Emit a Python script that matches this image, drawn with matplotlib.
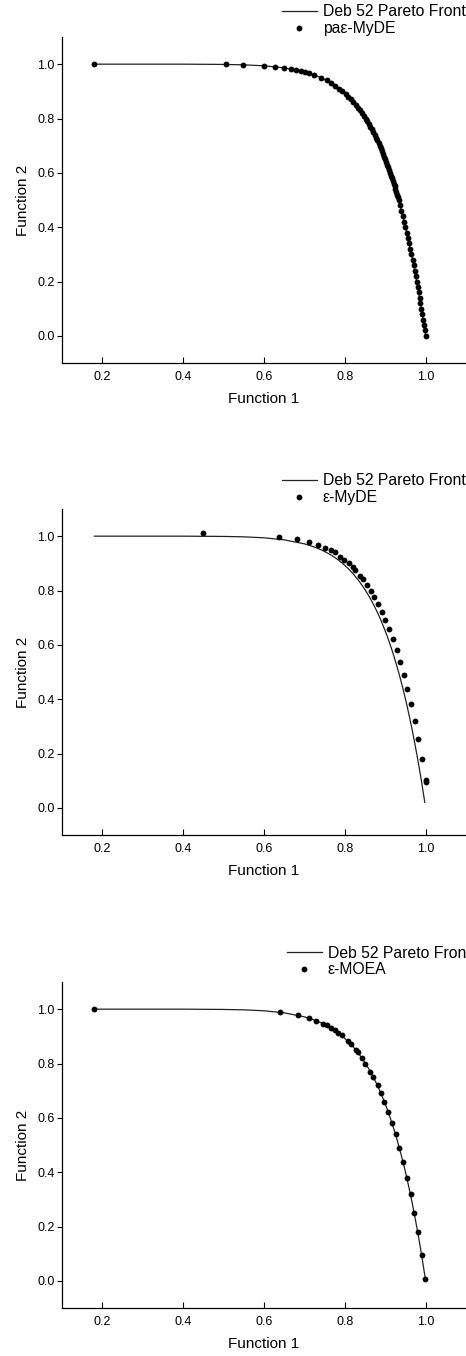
import matplotlib
matplotlib.use('Agg')
import matplotlib.pyplot as plt

plt.rcParams['font.family'] = ['Liberation Sans', 'DejaVu Sans']

# Deb 52 Pareto front
front_f1 = [0.18, 0.30, 0.40, 0.50, 0.55, 0.60, 0.65, 0.70, 0.7248, 0.7411, 0.7548,
            0.7665, 0.7768, 0.7860, 0.7943, 0.8089, 0.8215, 0.8325, 0.8424, 0.8513,
            0.8595, 0.8670, 0.8739, 0.8805, 0.8866, 0.8923, 0.8977, 0.9029, 0.9078,
            0.9124, 0.9169, 0.9212, 0.9253, 0.9292, 0.9330, 0.9367, 0.9402, 0.9437,
            0.9470, 0.9502, 0.9533, 0.9563, 0.9593, 0.9621, 0.9650, 0.9677, 0.9703,
            0.9729, 0.9754, 0.9779, 0.9803, 0.9827, 0.9850, 0.9873, 0.9895, 0.9917,
            0.9938, 0.9959, 0.9980, 1.0]
front_f2 = [1.0, 1.0, 1.0, 0.999, 0.9975, 0.994, 0.9865, 0.9718, 0.96, 0.95, 0.94,
            0.93, 0.92, 0.91, 0.90, 0.88, 0.86, 0.84, 0.82, 0.80,
            0.78, 0.76, 0.74, 0.72, 0.70, 0.68, 0.66, 0.64, 0.62,
            0.60, 0.58, 0.56, 0.54, 0.52, 0.50, 0.48, 0.46, 0.44,
            0.42, 0.40, 0.38, 0.36, 0.34, 0.32, 0.30, 0.28, 0.26,
            0.24, 0.22, 0.20, 0.18, 0.16, 0.14, 0.12, 0.10, 0.08,
            0.06, 0.04, 0.02, 0.0]

# pa-eps-MyDE
pa_f1 = [0.18, 0.507, 0.548, 0.600, 0.628, 0.649, 0.666, 0.680, 0.691, 0.701, 0.711,
         0.7248, 0.7411, 0.7548, 0.7665, 0.7768, 0.7860, 0.7943, 0.8019, 0.8089,
         0.8155, 0.8215, 0.8272, 0.8325, 0.8376, 0.8424, 0.8470, 0.8513, 0.8555,
         0.8595, 0.8633, 0.8670, 0.8706, 0.8739, 0.8773, 0.8805, 0.8836, 0.8866,
         0.8895, 0.8923, 0.8951, 0.8977, 0.9003, 0.9029, 0.9053, 0.9078, 0.9101,
         0.9124, 0.9147, 0.9169, 0.9191, 0.9212, 0.9233, 0.9253, 0.9273, 0.9292,
         0.9312, 0.9330, 0.9367, 0.9402, 0.9437, 0.9470,
         0.9502, 0.9533, 0.9563, 0.9593, 0.9621, 0.9650, 0.9677, 0.9703, 0.9729,
         0.9754, 0.9779, 0.9803, 0.9827, 0.9850, 0.9873, 0.9895, 0.9917, 0.9938,
         0.9959, 0.9980, 1.0]
pa_f2 = [1.0, 0.999, 0.998, 0.994, 0.990, 0.987, 0.983, 0.979, 0.975, 0.971, 0.967,
         0.96, 0.95, 0.94, 0.93, 0.92, 0.91, 0.90, 0.89, 0.88,
         0.87, 0.86, 0.85, 0.84, 0.83, 0.82, 0.81, 0.80, 0.79,
         0.78, 0.77, 0.76, 0.75, 0.74, 0.73, 0.72, 0.71, 0.70,
         0.69, 0.68, 0.67, 0.66, 0.65, 0.64, 0.63, 0.62, 0.61,
         0.60, 0.59, 0.58, 0.57, 0.56, 0.55, 0.54, 0.53, 0.52,
         0.51, 0.50, 0.48, 0.46, 0.44, 0.42,
         0.40, 0.38, 0.36, 0.34, 0.32, 0.30, 0.28, 0.26, 0.24,
         0.22, 0.20, 0.18, 0.16, 0.14, 0.12, 0.10, 0.08, 0.06,
         0.04, 0.02, 0.0]

# eps-MyDE
my_f1 = [0.450, 0.637, 0.682, 0.711, 0.733, 0.752, 0.765, 0.775, 0.789, 0.799, 0.810,
         0.820, 0.826, 0.837, 0.844, 0.855, 0.864, 0.873, 0.882, 0.891, 0.900,
         0.909, 0.919, 0.928, 0.937, 0.946, 0.955, 0.964, 0.973, 0.981, 0.991,
         1.001, 1.002]
my_f2 = [1.010, 0.997, 0.988, 0.979, 0.968, 0.956, 0.949, 0.940, 0.924, 0.914, 0.900,
         0.887, 0.875, 0.855, 0.842, 0.820, 0.798, 0.775, 0.749, 0.722, 0.691,
         0.658, 0.621, 0.580, 0.537, 0.489, 0.438, 0.383, 0.320, 0.255, 0.181,
         0.103, 0.094]

# eps-MOEA
moea_f1 = [0.18, 0.639, 0.684, 0.711, 0.729, 0.746, 0.757, 0.766, 0.776, 0.784, 0.794,
           0.809, 0.816, 0.827, 0.832, 0.842, 0.850, 0.863, 0.871, 0.881, 0.890,
           0.898, 0.908, 0.917, 0.926, 0.935, 0.944, 0.953, 0.963, 0.971, 0.980,
           0.990, 0.999]
moea_f2 = [1.0, 0.989, 0.978, 0.967, 0.958, 0.946, 0.940, 0.932, 0.924, 0.914, 0.905,
           0.881, 0.872, 0.850, 0.842, 0.820, 0.799, 0.770, 0.750, 0.721, 0.691,
           0.660, 0.621, 0.580, 0.540, 0.490, 0.439, 0.380, 0.319, 0.249, 0.179,
           0.095, 0.008]

panels = [
    ([62, 37], front_f1, front_f2, pa_f1, pa_f2, 'pa\u03b5-MyDE', 282, 4.5),
    ([62, 509], front_f1[:-1], front_f2[:-1], my_f1, my_f2, '\u03b5-MyDE', 282, 473.5),
    ([62, 982], front_f1[:-1] + [0.9995], front_f2[:-1] + [0.01], moea_f1, moea_f2, '\u03b5-MOEA', 287, 945.5),
]

W, H = 466, 1356
fig = plt.figure(figsize=(W / 100, H / 100), dpi=100)
aw, ah = 404, 326

for (pos, lx, ly, sx, sy, name, legx, legy) in panels:
    left, top = pos
    ax = fig.add_axes([left / W, (H - top - ah) / H, aw / W, ah / H])
    ax.plot(lx, ly, color='#222222', lw=0.9, label='Deb 52 Pareto Front')
    ax.plot(sx, sy, 'o', color='black', ms=4.2, mew=0, ls='none', label=name)
    ax.set_xlim(0.1, 1.1)
    ax.set_ylim(-0.1, 1.1)
    ax.set_xticks([0.2, 0.4, 0.6, 0.8, 1.0])
    ax.set_yticks([0.0, 0.2, 0.4, 0.6, 0.8, 1.0])
    ax.xaxis.set_major_formatter(matplotlib.ticker.FormatStrFormatter('%.1f'))
    ax.yaxis.set_major_formatter(matplotlib.ticker.FormatStrFormatter('%.1f'))
    ax.spines['top'].set_visible(False)
    ax.spines['right'].set_visible(False)
    ax.spines['left'].set_linewidth(0.9)
    ax.spines['bottom'].set_linewidth(0.9)
    ax.tick_params(axis='x', direction='in', length=4.5, width=0.8, labelsize=9, pad=5.5)
    ax.tick_params(axis='y', direction='out', length=3.8, width=0.8, labelsize=9, pad=1.5)
    ax.set_xlabel('Function 1', fontsize=11, labelpad=7)
    ax.set_ylabel('Function 2', fontsize=11, labelpad=5)
    ax.legend(loc='upper left',
              bbox_to_anchor=((legx - left) / aw, 1 + (top - legy) / ah),
              frameon=False, fontsize=11.3, borderpad=0, borderaxespad=0,
              handlelength=2.2, handletextpad=0.4, labelspacing=0.1,
              markerscale=1.0)

fig.savefig('out.png', dpi=100)
